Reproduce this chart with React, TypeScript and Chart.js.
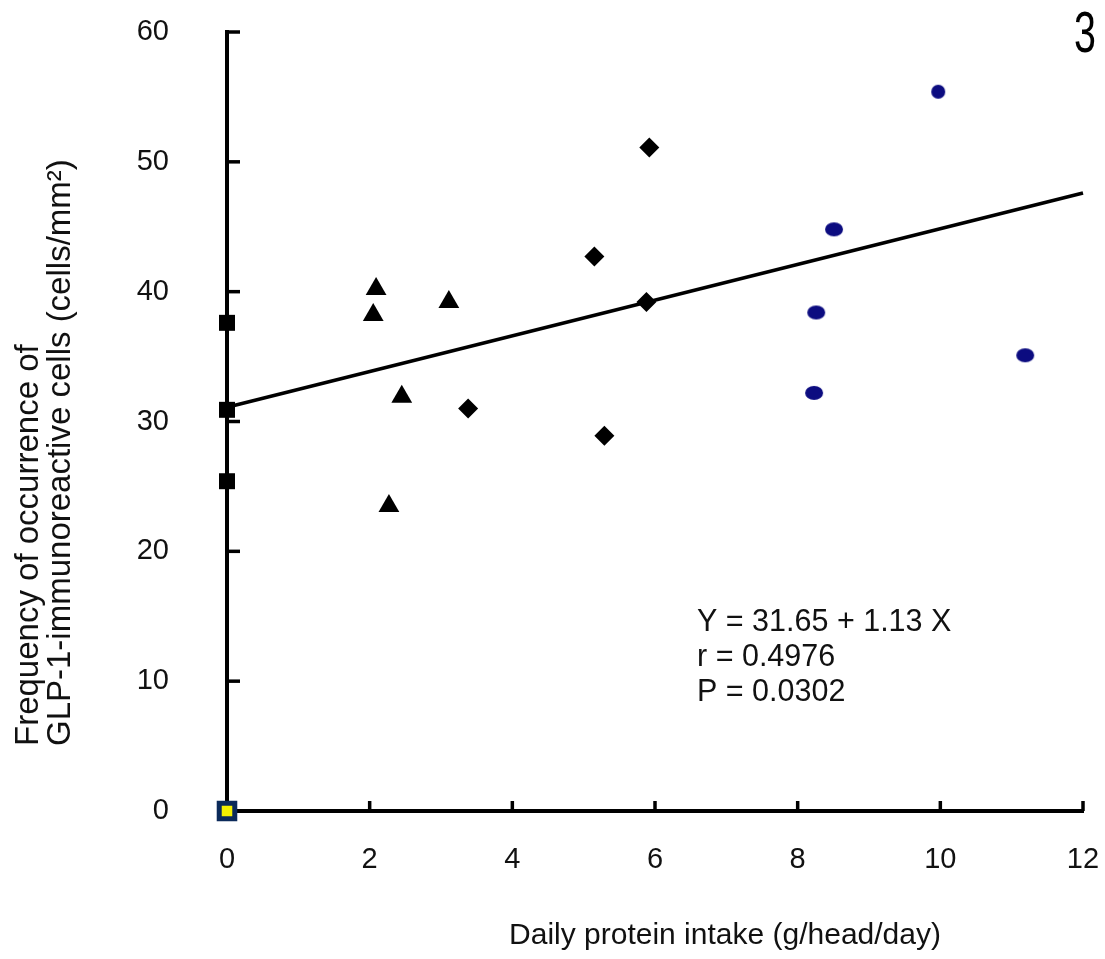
import React, { useEffect, useRef } from "react";
import { Chart, registerables } from "chart.js";

Chart.register(...registerables);

// ---- Data ----
const squareX = [0, 0, 0];
const squareY = [37.6, 30.9, 25.4];
const originX = [0];
const originY = [0];
const triangleX = [2.09, 2.05, 3.11, 2.45, 2.27];
const triangleY = [40.2, 38.2, 39.2, 31.9, 23.5];
const diamondX = [5.92, 5.15, 5.88, 5.29, 3.38];
const diamondY = [51.1, 42.7, 39.2, 28.9, 31.0];
const circleX = [9.97, 8.51, 8.26, 8.23, 11.19];
const circleY = [55.4, 44.8, 38.4, 32.2, 35.1];
const fitX = [0, 12];
const fitY = [31.1, 47.6];

const xTicks = [0, 2, 4, 6, 8, 10, 12];
const yTicks = [0, 10, 20, 30, 40, 50, 60];

const xTitle = "Daily protein intake (g/head/day)";
const yTitleLines = ["Frequency of occurrence of", "GLP-1-immunoreactive cells (cells/mm\u00B2)"];
const statLines = ["Y = 31.65 + 1.13 X", "r = 0.4976", "P = 0.0302"];
const panelLabel = "3";

const FONT = "'Liberation Sans', Arial, sans-serif";
const NAVY = "#0c0c80";

function pts(xs: number[], ys: number[]) {
  return xs.map((x, i) => ({ x, y: ys[i] }));
}

function ellipseCanvas(w: number, h: number, color: string) {
  const c = document.createElement("canvas");
  c.width = w + 2;
  c.height = h + 2;
  const g = c.getContext("2d")!;
  g.fillStyle = color;
  g.beginPath();
  g.ellipse(c.width / 2, c.height / 2, w / 2, h / 2, 0, 0, Math.PI * 2);
  g.fill();
  return c;
}

const decorPlugin = {
  id: "decor",
  afterDraw(chart: any) {
    const { ctx, scales } = chart;
    const xs = scales.x;
    const ys = scales.y;
    ctx.save();
    // inward ticks
    ctx.strokeStyle = "#000";
    ctx.lineWidth = 3.5;
    const x0 = xs.getPixelForValue(0);
    const y0 = ys.getPixelForValue(0);
    yTicks.forEach((v) => {
      if (v === 0) return;
      const py = ys.getPixelForValue(v);
      ctx.beginPath();
      ctx.moveTo(x0, py);
      ctx.lineTo(x0 + 13, py);
      ctx.stroke();
    });
    xTicks.forEach((v) => {
      if (v === 0) return;
      const px = xs.getPixelForValue(v);
      ctx.beginPath();
      ctx.moveTo(px, y0);
      ctx.lineTo(px, y0 - 10);
      ctx.stroke();
    });

    ctx.fillStyle = "#111";
    // x title
    ctx.font = `30px ${FONT}`;
    ctx.textAlign = "center";
    ctx.textBaseline = "middle";
    ctx.fillText(xTitle, 725, 936);

    // y title (left-aligned along the rotated baseline)
    ctx.font = `33px ${FONT}`;
    ctx.textAlign = "left";
    const yCenters = [29, 61];
    yTitleLines.forEach((line, i) => {
      ctx.save();
      ctx.translate(yCenters[i], 746);
      ctx.rotate(-Math.PI / 2);
      ctx.fillText(line, 0, 0);
      ctx.restore();
    });

    // stats
    ctx.font = `30.5px ${FONT}`;
    ctx.textAlign = "left";
    statLines.forEach((line, i) => {
      ctx.fillText(line, 697, 623 + i * 35);
    });

    // panel label
    ctx.save();
    ctx.translate(1085, 36);
    ctx.scale(0.68, 1);
    ctx.font = `58px ${FONT}`;
    ctx.textAlign = "center";
    ctx.fillStyle = "#000";
    ctx.fillText(panelLabel, 0, 0);
    ctx.restore();

    ctx.restore();
  },
};

export default function App() {
  const ref = useRef<HTMLCanvasElement | null>(null);

  useEffect(() => {
    if (!ref.current) return;
    const bigEllipse = ellipseCanvas(18, 14, NAVY);
    const smallCircle = ellipseCanvas(14, 14, NAVY);
    const chart = new Chart(ref.current, {
      type: "scatter",
      data: {
        datasets: [
          {
            type: "line",
            data: pts(fitX, fitY),
            borderColor: "#000",
            borderWidth: 3.5,
            pointRadius: 0,
            fill: false,
            clip: false,
            order: 5,
          } as any,
          {
            data: pts(squareX, squareY),
            pointStyle: "rect",
            pointRadius: 11.3,
            backgroundColor: "#000",
            borderColor: "#000",
            borderWidth: 0,
            clip: false,
          },
          {
            data: pts(originX, originY),
            pointStyle: "rect",
            pointRadius: 11,
            backgroundColor: "#f4f000",
            borderColor: "#0b2a5a",
            borderWidth: 5,
            clip: false,
          },
          {
            data: pts(triangleX, triangleY),
            pointStyle: "triangle",
            pointRadius: 12,
            backgroundColor: "#000",
            borderColor: "#000",
            borderWidth: 0,
            clip: false,
          },
          {
            data: pts(diamondX, diamondY),
            pointStyle: "rectRot",
            pointRadius: 10,
            backgroundColor: "#000",
            borderColor: "#000",
            borderWidth: 0,
            clip: false,
          },
          {
            data: pts(circleX, circleY),
            pointStyle: (c: any) => (c.dataIndex === 0 ? smallCircle : bigEllipse),
            pointRadius: 9,
            backgroundColor: NAVY,
            borderColor: NAVY,
            clip: false,
          } as any,
        ],
      },
      options: {
        animation: false,
        responsive: true,
        maintainAspectRatio: false,
        layout: { padding: { top: 32, right: 22, left: 0, bottom: 0 } },
        plugins: {
          legend: { display: false },
          tooltip: { enabled: false },
        },
        scales: {
          x: {
            type: "linear",
            min: 0,
            max: 12,
            afterFit: (s: any) => {
              s.height = 148;
              s.paddingLeft = 0;
              s.paddingRight = 0;
            },
            afterBuildTicks: (s: any) => {
              s.ticks = xTicks.map((v) => ({ value: v }));
            },
            ticks: {
              color: "#111",
              font: { family: FONT, size: 29 },
              padding: 24,
              maxRotation: 0,
            },
            grid: { display: false },
            border: { display: true, color: "#000", width: 4 },
          },
          y: {
            type: "linear",
            min: 0,
            max: 60,
            afterFit: (s: any) => {
              s.width = 227;
              s.paddingTop = 0;
              s.paddingBottom = 0;
            },
            afterBuildTicks: (s: any) => {
              s.ticks = yTicks.map((v) => ({ value: v }));
            },
            ticks: {
              color: "#111",
              font: { family: FONT, size: 29 },
              padding: 50,
            },
            grid: { display: false },
            border: { display: true, color: "#000", width: 4 },
          },
        },
      },
      plugins: [decorPlugin],
    });
    return () => chart.destroy();
  }, []);

  return (
    <div style={{ position: "fixed", left: 0, top: 0, width: 1105, height: 959, background: "#fff" }}>
      <canvas ref={ref} />
    </div>
  );
}
